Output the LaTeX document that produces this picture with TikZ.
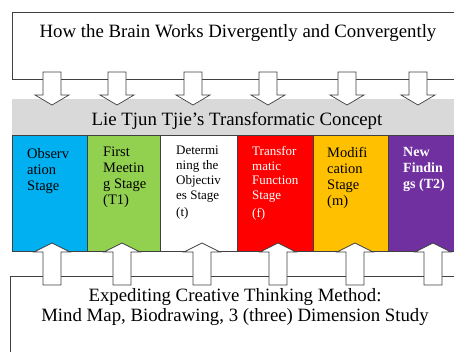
\documentclass[tikz,border=0pt]{standalone}
\usepackage{fontspec}
\setmainfont{Liberation Serif}
\definecolor{cblue}{HTML}{00B0F0}
\definecolor{cgreen}{HTML}{92D050}
\definecolor{cred}{HTML}{FF0000}
\definecolor{corange}{HTML}{FFC000}
\definecolor{cpurple}{HTML}{7030A0}
\definecolor{cgrey}{HTML}{D9D9D9}
\definecolor{cline}{HTML}{404040}
\tikzset{
  frame/.style={draw=cline, line width=0.8pt},
  stagebox/.style={draw=cline, line width=0.6pt},
  blockarrow/.style={draw=cline, fill=white, line width=0.7pt, line join=miter},
  stagetext/.style={anchor=north west, align=left, inner sep=0pt, font=\fontsize{14.5}{16}\selectfont},
  smalltext/.style={font=\fontsize{13}{14.8}\selectfont},
  bigtext/.style={font=\fontsize{18.8}{20.5}\selectfont},
  pics/downarrow/.style={code={
    \path[blockarrow] (-9,-33) -- (9,-33) -- (9,-10) -- (17,-10) -- (0,0) -- (-17,-10) -- (-9,-10) -- cycle;}},
  pics/uparrow/.style={code={
    \path[blockarrow] (-9,42) -- (9,42) -- (9,9) -- (18,9) -- (0,0) -- (-18,9) -- (-9,9) -- cycle;}}
}
\begin{document}
\begin{tikzpicture}[x=1pt,y=-1pt]
\useasboundingbox (0,0) rectangle (454,351);
% top frame
\draw[frame] (454,12) -- (12,12) -- (12,79) -- (454,79);
\node[bigtext] (title) at (238,33) {How the Brain Works Divergently and Convergently};
% grey band
\fill[cgrey] (12,99) rectangle (454,135);
\node[bigtext] (concept) at (237,121) {Lie Tjun Tjie’s Transformatic Concept};
% stage boxes
\path[stagebox, fill=cblue] (12,135) rectangle (87,251);
\path[stagebox, fill=cgreen] (87,135) rectangle (160,251);
\path[stagebox, fill=white] (160,135) rectangle (237,251);
\path[stagebox, fill=cred] (237,135) rectangle (313,251);
\path[stagebox, fill=corange] (313,135) rectangle (388,251);
\path[stagebox, fill=cpurple] (388,135) rectangle (470,251);
\node[stagetext] (s1) at (27,148) {Observ\\ation\\Stage};
\node[stagetext] (s2) at (103,146.7) {First\\Meetin\\g Stage\\(T1)};
\node[stagetext, smalltext] (s3) at (176,146) {Determi\\ning the\\Objectiv\\es Stage\\[2pt](t)};
\node[stagetext, smalltext, text=white] (s4) at (252,146) {Transfor\\matic\\Function\\Stage\\[2.5pt](f)};
\node[stagetext] (s5) at (327,146.7) {Modifi\\cation\\Stage\\(m)};
\node[stagetext, text=white, font=\bfseries\fontsize{14}{16}\selectfont] (s6) at (403,147) {New\\Findin\\gs (T2)};
% bottom frame
\draw[frame] (10,360) -- (10,276) -- (454,276);
\node[align=center, bigtext] (method) at (235,307) {Expediting Creative Thinking Method:\\Mind Map, Biodrawing, 3 (three) Dimension Study};
% arrows
\foreach \x in {52,117,193,268,347,418} \pic at (\x,105) {downarrow};
\foreach \x in {52,122,202,278,355,433} \pic at (\x,243) {uparrow};
\end{tikzpicture}
\end{document}
